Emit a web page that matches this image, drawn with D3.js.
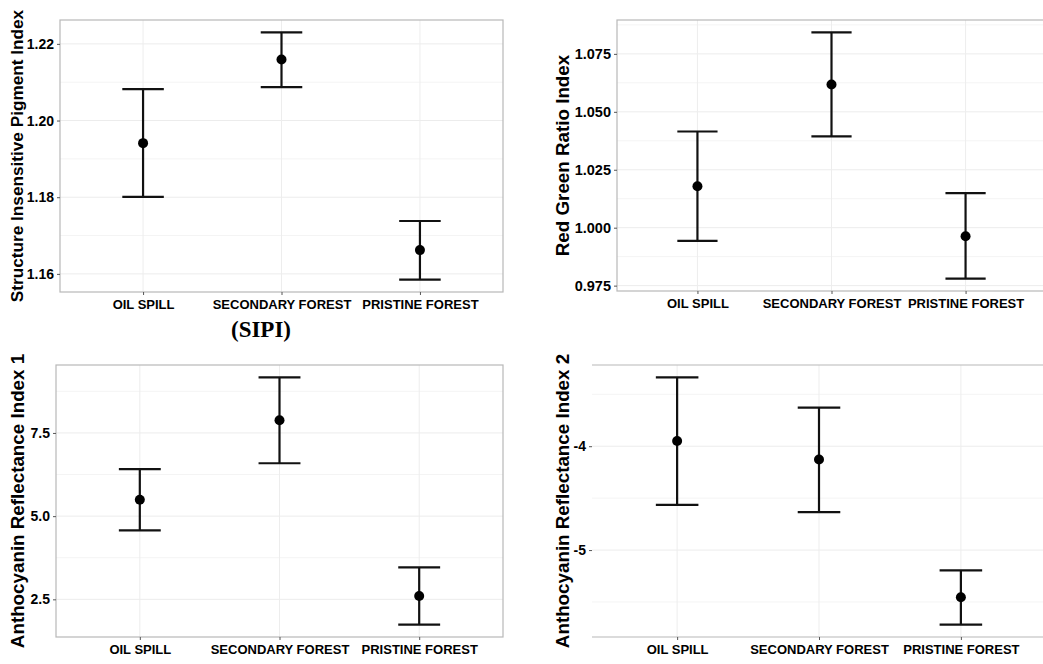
<!DOCTYPE html>
<html>
<head>
<meta charset="utf-8">
<script src="https://cdn.jsdelivr.net/npm/d3@7"></script>
<style>
  html, body { margin: 0; padding: 0; background: #fff; }
  svg { display: block; }
  .tick text { font-family: "Liberation Sans", Arial, sans-serif; font-weight: bold; fill: #000; }
</style>
</head>
<body>
<svg class="grafico" width="1043" height="664"></svg>
<script>
// categorias (eixo x, igual nos 4 painéis)
const categorias = ["OIL SPILL", "SECONDARY FOREST", "PRISTINE FOREST"];

// SIPI
const sipi_media = [1.1941, 1.2159, 1.1662];
const sipi_inf   = [1.1801, 1.2087, 1.1585];
const sipi_sup   = [1.2082, 1.2230, 1.1738];
const sipi_ticks = [1.16, 1.18, 1.20, 1.22];

// Red Green Ratio
const rgri_media = [1.0179, 1.0618, 0.9963];
const rgri_inf   = [0.9943, 1.0394, 0.9780];
const rgri_sup   = [1.0415, 1.0843, 1.0149];
const rgri_ticks = [0.975, 1.000, 1.025, 1.050, 1.075];

// Anthocyanin 1
const ari1_media = [5.49, 7.88, 2.60];
const ari1_inf   = [4.57, 6.59, 1.74];
const ari1_sup   = [6.41, 9.17, 3.46];
const ari1_ticks = [2.5, 5.0, 7.5];

// Anthocyanin 2
const ari2_media = [-3.949, -4.128, -5.455];
const ari2_inf   = [-4.564, -4.635, -5.718];
const ari2_sup   = [-3.337, -3.628, -5.195];
const ari2_ticks = [-5, -4];

const $svg = d3.select(".grafico");

const FONTE = '"Liberation Sans", Arial, sans-serif';

function painel(p) {
    const dados = categorias.map((c, i) => ({
        cat: c, media: p.media[i], inf: p.inf[i], sup: p.sup[i]
    }));

    const x = d3.scalePoint()
        .domain(categorias)
        .range([p.left, p.right])
        .padding(0.6);

    // expansão de 5% como no ggplot
    const lo = d3.min(dados, d => d.inf);
    const hi = d3.max(dados, d => d.sup);
    const span = hi - lo;
    const y = d3.scaleLinear()
        .domain([lo - 0.05 * span, hi + 0.05 * span])
        .range([p.bottom, p.top]);

    const g = $svg.append("g");

    // grade menor (meio entre os ticks principais)
    const passo = p.ticks[1] - p.ticks[0];
    const menores = [];
    for (let k = -1; k < p.ticks.length; k++) {
        const v = p.ticks[0] + (k + 0.5) * passo;
        if (v > y.domain()[0] && v < y.domain()[1]) menores.push(v);
    }
    g.selectAll(".minor").data(menores).join("line")
        .attr("x1", p.left).attr("x2", p.right)
        .attr("y1", d => y(d)).attr("y2", d => y(d))
        .attr("stroke", "#f4f4f4").attr("stroke-width", 1);

    g.selectAll(".major").data(p.ticks).join("line")
        .attr("x1", p.left).attr("x2", p.right)
        .attr("y1", d => y(d)).attr("y2", d => y(d))
        .attr("stroke", "#ececec").attr("stroke-width", 1);

    g.selectAll(".vmajor").data(categorias).join("line")
        .attr("x1", d => x(d)).attr("x2", d => x(d))
        .attr("y1", p.top).attr("y2", p.bottom)
        .attr("stroke", "#ededed").attr("stroke-width", 1);

    // moldura
    if (p.semEsquerda) {
        g.append("line").attr("x1", p.left).attr("x2", p.right)
            .attr("y1", p.top).attr("y2", p.top)
            .attr("stroke", "#b8b8b8").attr("stroke-width", 1.2);
        g.append("line").attr("x1", p.left).attr("x2", p.right)
            .attr("y1", p.bottom).attr("y2", p.bottom)
            .attr("stroke", "#b8b8b8").attr("stroke-width", 1.2);
    } else {
        g.append("rect")
            .attr("x", p.left).attr("y", p.top)
            .attr("width", p.right - p.left).attr("height", p.bottom - p.top)
            .attr("fill", "none").attr("stroke", "#b8b8b8").attr("stroke-width", 1.2);
    }

    // eixos
    const eixoY = g.append("g")
        .attr("transform", `translate(${p.left},0)`)
        .call(d3.axisLeft(y).tickValues(p.ticks).tickSize(3).tickPadding(3)
            .tickFormat(d => d.toFixed(p.casas)));
    eixoY.select(".domain").remove();
    eixoY.selectAll(".tick line").attr("stroke", "#555");
    eixoY.selectAll(".tick text").style("font-size", p.fsTick + "px");

    const eixoX = g.append("g")
        .attr("transform", `translate(0,${p.bottom})`)
        .call(d3.axisBottom(x).tickSize(3).tickPadding(5));
    eixoX.select(".domain").remove();
    eixoX.selectAll(".tick line").attr("stroke", "#555");
    eixoX.selectAll(".tick text").style("font-size", "13px");

    // título do eixo y
    g.append("text")
        .attr("transform", `translate(${p.tituloX},${(p.top + p.bottom) / 2}) rotate(-90)`)
        .attr("text-anchor", "middle")
        .attr("dy", "0.35em")
        .style("font-family", FONTE)
        .style("font-weight", "bold")
        .style("font-size", p.fsTitulo + "px")
        .text(p.titulo);

    // barras de erro
    const meia = x.step() * 0.15;
    const barras = g.selectAll(".erro").data(dados).join("g");
    barras.append("line")
        .attr("x1", d => x(d.cat)).attr("x2", d => x(d.cat))
        .attr("y1", d => y(d.inf)).attr("y2", d => y(d.sup));
    barras.append("line")
        .attr("x1", d => x(d.cat) - meia).attr("x2", d => x(d.cat) + meia)
        .attr("y1", d => y(d.sup)).attr("y2", d => y(d.sup));
    barras.append("line")
        .attr("x1", d => x(d.cat) - meia).attr("x2", d => x(d.cat) + meia)
        .attr("y1", d => y(d.inf)).attr("y2", d => y(d.inf));
    barras.selectAll("line").attr("stroke", "#111").attr("stroke-width", 2.2);

    g.selectAll(".ponto").data(dados).join("circle")
        .attr("cx", d => x(d.cat)).attr("cy", d => y(d.media))
        .attr("r", 5).attr("fill", "#000");
}

painel({ media: sipi_media, inf: sipi_inf, sup: sipi_sup, ticks: sipi_ticks, casas: 2,
         left: 60, right: 503, top: 20, bottom: 292, tituloX: 17,
         fsTick: 14, fsTitulo: 17.2, titulo: "Structure Insensitive Pigment Index" });

painel({ media: rgri_media, inf: rgri_inf, sup: rgri_sup, ticks: rgri_ticks, casas: 3,
         left: 617, right: 1046, top: 20, bottom: 291, tituloX: 562,
         fsTick: 14.5, fsTitulo: 18.8, titulo: "Red Green Ratio Index" });

painel({ media: ari1_media, inf: ari1_inf, sup: ari1_sup, ticks: ari1_ticks, casas: 1,
         left: 56, right: 503, top: 365, bottom: 637, tituloX: 17.5,
         fsTick: 14, fsTitulo: 18.8, titulo: "Anthocyanin Reflectance Index 1" });

painel({ media: ari2_media, inf: ari2_inf, sup: ari2_sup, ticks: ari2_ticks, casas: 0,
         left: 592, right: 1046, top: 365, bottom: 637, tituloX: 562.5, semEsquerda: true,
         fsTick: 14, fsTitulo: 18.8, titulo: "Anthocyanin Reflectance Index 2" });

// legenda do primeiro painel
$svg.append("text")
    .attr("x", 261).attr("y", 337)
    .attr("text-anchor", "middle")
    .style("font-family", '"Liberation Serif", "Times New Roman", serif')
    .style("font-weight", "bold")
    .style("font-size", "23px")
    .text("(SIPI)");
</script>
</body>
</html>
